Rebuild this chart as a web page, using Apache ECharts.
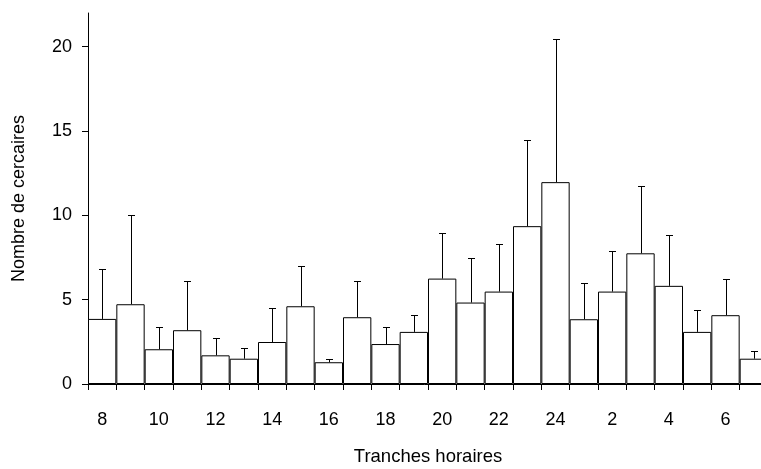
<!DOCTYPE html>
<html>
<head>
<meta charset="utf-8">
<script src="https://cdn.jsdelivr.net/npm/echarts@6/dist/echarts.min.js"></script>
<style>
html,body{margin:0;padding:0;background:#fff;}
#c{width:761px;height:469px;}
</style>
</head>
<body>
<div id="c"></div>
<script>
const hours = ['8','9','10','11','12','13','14','15','16','17','18','19','20','21','22','23','24','1','2','3','4','5','6','7'];
const means = [3.86,4.73,2.06,3.19,1.70,1.50,2.49,4.61,1.29,3.96,2.37,3.09,6.25,4.83,5.48,9.36,11.97,3.84,5.48,7.75,5.82,3.09,4.08,1.50];
const upper = [6.80,10.0,3.40,6.13,2.71,2.16,4.49,7.00,1.50,6.13,3.40,4.08,8.98,7.46,8.31,14.48,20.47,6.01,7.87,11.75,8.86,4.39,6.25,1.94];
const yTicks = [0,5,10,15,20];
const xTitle = 'Tranches horaires';
const yTitle = 'Nombre de cercaires';

const FONT = 'Liberation Sans, Arial, sans-serif';
const chart = echarts.init(document.getElementById('c'), null, {renderer:'canvas'});
const errData = hours.map((h,i)=>[i, means[i], upper[i]]);
chart.setOption({
  animation:false,
  backgroundColor:'#fff',
  grid:{left:88, top:13, width:680, height:371, containLabel:false, outerBoundsMode:'none'},
  xAxis:{
    type:'category', data:hours, boundaryGap:true,
    name:xTitle, nameLocation:'middle', nameGap:63,
    nameTextStyle:{fontFamily:FONT, fontSize:18.5, color:'#000'},
    axisLine:{show:true, lineStyle:{color:'#000', width:1}},
    axisTick:{show:true, interval:0, alignWithLabel:false, length:6, lineStyle:{color:'#000'}},
    axisLabel:{interval:1, margin:27, fontFamily:FONT, fontSize:18, color:'#000'},
    splitLine:{show:false}
  },
  yAxis:{
    type:'value', min:0, max:22,
    name:yTitle, nameLocation:'middle', nameGap:60, nameRotate:90,
    nameTextStyle:{fontFamily:FONT, fontSize:18, color:'#000'},
    axisLine:{show:true, lineStyle:{color:'#000', width:1}},
    axisTick:{show:true, length:6, customValues:yTicks, lineStyle:{color:'#000'}},
    axisLabel:{margin:16, customValues:yTicks, fontFamily:FONT, fontSize:18, color:'#000'},
    splitLine:{show:false}
  },
  series:[
    {
      type:'bar', data:means, barCategoryGap:'0%',
      itemStyle:{color:'#fff', borderColor:'#000', borderWidth:1},
      z:2
    },
    {
      type:'custom', data:errData, z:3,
      renderItem:function(params, api){
        const base = api.coord([api.value(0), api.value(1)]);
        const top = api.coord([api.value(0), api.value(2)]);
        const x = Math.round(base[0]) + 0.5;
        const ty = Math.round(top[1]) + 0.5;
        return {
          type:'group',
          children:[
            {type:'line', shape:{x1:x, y1:base[1], x2:x, y2:ty}, style:{stroke:'#000', lineWidth:1}},
            {type:'line', shape:{x1:x-3.5, y1:ty, x2:x+3.5, y2:ty}, style:{stroke:'#000', lineWidth:1}}
          ]
        };
      }
    }
  ]
});
</script>
</body>
</html>
